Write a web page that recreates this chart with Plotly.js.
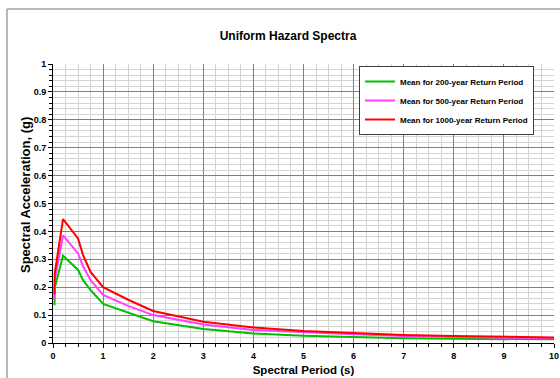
<!DOCTYPE html>
<html><head><meta charset="utf-8">
<script src="https://cdn.plot.ly/plotly-3.0.1.min.js"></script>
<style>html,body{margin:0;padding:0;background:#fff;}#chart{width:560px;height:378px;}</style>
</head><body><div id="chart"></div>
<script>
const periods = [0.03, 0.035, 0.2, 0.5, 0.6, 0.75, 1.0, 1.5, 2, 3, 4, 5, 6, 7, 8, 9, 10];
const mean200  = [0.135, 0.198, 0.313, 0.262, 0.225, 0.19, 0.14, 0.108, 0.078, 0.05, 0.034, 0.026, 0.021, 0.017, 0.015, 0.014, 0.013];
const mean500  = [0.155, 0.225, 0.386, 0.321, 0.275, 0.225, 0.172, 0.133, 0.1, 0.066, 0.047, 0.038, 0.031, 0.025, 0.021, 0.019, 0.018];
const mean1000 = [0.175, 0.25, 0.444, 0.375, 0.315, 0.255, 0.2, 0.155, 0.115, 0.076, 0.056, 0.043, 0.036, 0.029, 0.025, 0.023, 0.02];
const seriesNames = ["Mean for 200-year Return Period", "Mean for 500-year Return Period", "Mean for 1000-year Return Period"];
const seriesColors = ["#00c000", "#ff40ff", "#ff0000"];
const yTitle = "Spectral Acceleration, (g)";

const FONT = "Liberation Sans, Arial, sans-serif";
const data = [mean200, mean500, mean1000].map((ys, i) => ({
  x: periods, y: ys, type: "scatter", mode: "lines", name: seriesNames[i],
  line: {color: seriesColors[i], width: 2}
}));

const axisCommon = {
  showline: true, linecolor: "#000", linewidth: 1, mirror: false,
  ticks: "outside", ticklen: 4, tickcolor: "#000",
  showgrid: true, gridcolor: "#808080", gridwidth: 1, zeroline: false,
  tickfont: {family: FONT, size: 9, color: "#000", weight: "bold"}
};

const layout = {
  width: 560, height: 378,
  margin: {l: 53, r: 6, t: 64, b: 35},
  paper_bgcolor: "#fff", plot_bgcolor: "#fff",
  title: {text: "Uniform Hazard Spectra", font: {family: FONT, size: 12, color: "#000", weight: "bold"},
          x: 288/560, xref: "container", xanchor: "center", y: 1 - 36/378, yref: "container", yanchor: "middle"},
  xaxis: Object.assign({}, axisCommon, {
    range: [0, 10], dtick: 1, tick0: 0,
    minor: {dtick: 0.25, showgrid: true, gridcolor: "#d4d4d4", gridwidth: 1, ticks: "outside", ticklen: 3, tickcolor: "#000"},
    title: {text: "Spectral Period (s)", font: {family: FONT, size: 11.5, color: "#000", weight: "bold"}, standoff: 6}
  }),
  yaxis: Object.assign({}, axisCommon, {
    range: [0, 1], dtick: 0.1, tick0: 0,
    minor: {dtick: 0.02, showgrid: true, gridcolor: "#d4d4d4", gridwidth: 1, ticks: "outside", ticklen: 3, tickcolor: "#000"}
  }),
  annotations: [{
    text: yTitle, xref: "paper", yref: "paper", x: (25-53)/501, y: (343-195)/279,
    xanchor: "center", yanchor: "middle", textangle: -90, showarrow: false,
    font: {family: FONT, size: 13, color: "#000", weight: "bold"}
  }],
  showlegend: true,
  legend: {
    x: (359-53)/501, y: (343-66)/279, xanchor: "left", yanchor: "top",
    bgcolor: "#fff", bordercolor: "#404040", borderwidth: 1,
    font: {family: FONT, size: 8, color: "#000", weight: "bold"},
    itemwidth: 30, tracegroupgap: 0
  },
  shapes: [
    {type: "line", xref: "paper", yref: "paper", x0: -46/501, x1: -46/501, y0: -0.3, y1: (343-9)/279, line: {color: "#a0a0a0", width: 1.5}},
    {type: "line", xref: "paper", yref: "paper", x0: -46/501, x1: 1.2, y0: (343-9)/279, y1: (343-9)/279, line: {color: "#a0a0a0", width: 1.5}}
  ]
};

Plotly.newPlot("chart", data, layout, {displayModeBar: false, staticPlot: true});
</script></body></html>
